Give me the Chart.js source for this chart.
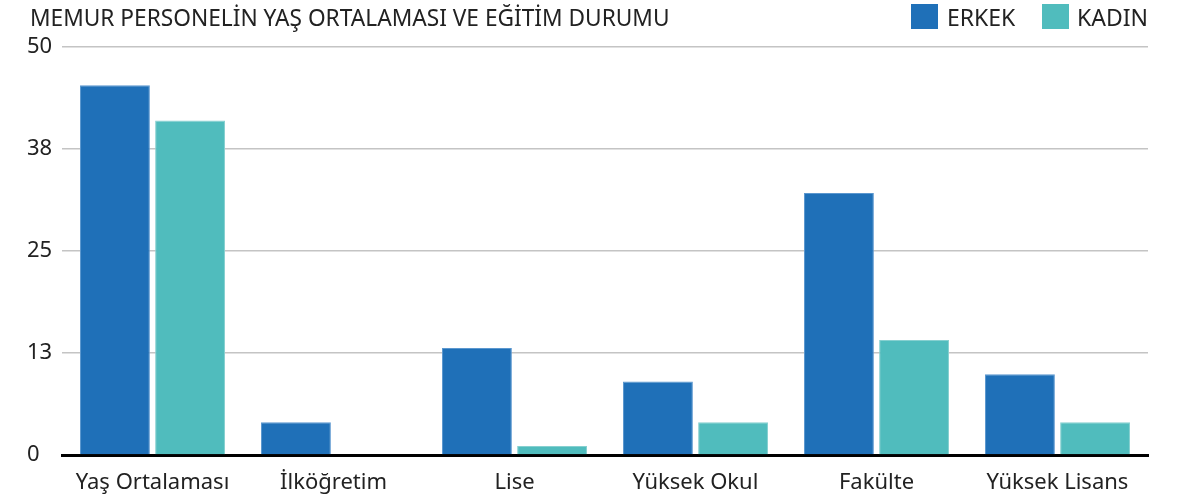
<!DOCTYPE html>
<html>
<head>
<meta charset="utf-8">
<script src="https://cdn.jsdelivr.net/npm/chart.js@4/dist/chart.umd.min.js"></script>
<style>
html,body{margin:0;padding:0;background:#fff;}
#wrap{position:relative;width:1183px;height:499px;}
#title{position:absolute;left:30px;top:2px;font-family:"Noto Sans",sans-serif;font-size:22.7px;color:#222;white-space:nowrap;}
.lgbox{position:absolute;top:4px;width:27px;height:25px;}
.lgtxt{position:absolute;top:1px;font-family:"Noto Sans",sans-serif;font-size:23px;color:#222;white-space:nowrap;}
</style>
</head>
<body>
<div id="wrap">
<canvas id="c" width="1183" height="499"></canvas>
<div id="title">MEMUR PERSONELİN YAŞ ORTALAMASI VE EĞİTİM DURUMU</div>
<div id="legend"></div>
</div>
<script>
const categories = ["Yaş Ortalaması", "İlköğretim", "Lise", "Yüksek Okul", "Fakülte", "Yüksek Lisans"];
const seriesNames = ["ERKEK", "KADIN"];
const erkek = [45.3, 4.0, 13.1, 9.0, 32.1, 9.9];
const kadin = [41.0, 0, 1.1, 4.0, 14.1, 4.0];
const yTicks = [0, 12.5, 25, 37.5, 50];
const colors = ["#1f70b8", "#50bcbd"];
const borderColors = ["#5b97cf", "#86d0d0"];

const FONT = '"Noto Sans", sans-serif';

// HTML legend
const legendPos = [[911, 947], [1042, 1077]];
const lg = document.getElementById('legend');
seriesNames.forEach((n, i) => {
  const b = document.createElement('div');
  b.className = 'lgbox'; b.style.left = legendPos[i][0] + 'px'; b.style.background = colors[i];
  const t = document.createElement('div');
  t.className = 'lgtxt'; t.style.left = legendPos[i][1] + 'px'; t.textContent = n;
  lg.appendChild(b); lg.appendChild(t);
});

new Chart(document.getElementById('c'), {
  type: 'bar',
  data: {
    labels: categories,
    datasets: [erkek, kadin].map((d, i) => ({
      label: seriesNames[i], data: d, backgroundColor: colors[i],
      borderColor: borderColors[i], borderWidth: 1,
      categoryPercentage: 0.83, barPercentage: 0.93
    }))
  },
  options: {
    responsive: false,
    animation: false,
    layout: {padding: {left: 27, right: 35, top: 47, bottom: 0}},
    plugins: {
      tooltip: {enabled: false},
      legend: {display: false}
    },
    scales: {
      x: {
        grid: {display: false, drawTicks: false},
        border: {display: true, color: '#000', width: 3},
        afterFit: (s) => { s.height = 44; },
        ticks: {color: '#222', font: {family: FONT, size: 22}, padding: 15, maxRotation: 0}
      },
      y: {
        min: 0, max: 50,
        afterBuildTicks: (s) => { s.ticks = yTicks.map(v => ({value: v})); },
        afterFit: (s) => { s.width = 35; },
        grid: {color: '#c4c4c4', lineWidth: 1.5, drawTicks: false},
        border: {display: false},
        ticks: {color: '#222', font: {family: FONT, size: 22}, padding: 12, crossAlign: 'far',
          callback: (v) => Math.round(v)}
      }
    }
  }
});
</script>
</body>
</html>
